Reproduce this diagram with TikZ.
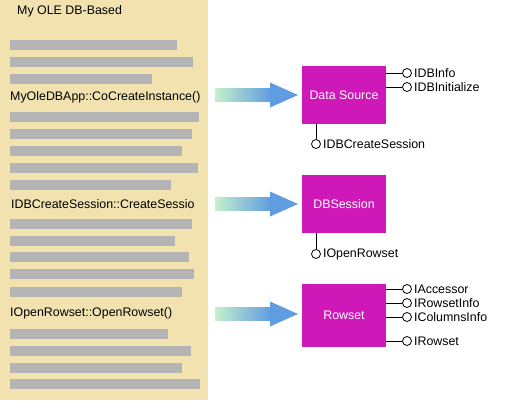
\documentclass[tikz,border=0pt]{standalone}
\usepackage{fontspec}
\setmainfont{Liberation Sans}
\usetikzlibrary{positioning,calc}
\definecolor{panelbeige}{RGB}{242,226,176}
\definecolor{bargray}{RGB}{180,180,180}
\definecolor{objmagenta}{RGB}{206,24,184}
\definecolor{arrowblue}{RGB}{96,156,224}
\definecolor{arrowpale}{RGB}{196,240,204}

\begin{document}
\begin{tikzpicture}[
    x=1pt, y=-1pt,
    every node/.style={font=\fontsize{12.4}{14}\selectfont, inner sep=0pt},
    object/.style={rectangle, fill=objmagenta, minimum width=84pt, minimum height=58pt, text=white},
    iface/.style={circle, draw=black, fill=white, minimum size=9pt, line width=0.8pt},
    ifacelabel/.style={anchor=west},
    call/.style={anchor=west},
    link/.style={line width=0.8pt}
]
\useasboundingbox (0,0) rectangle (525,400);

% Client panel
\fill[panelbeige] (0,0) rectangle (208,400);
\node[anchor=west] (title) at (17,11) {My OLE DB-Based};

% Placeholder code lines
\foreach \y/\xend in {40/177, 57/193, 74/152, 112/199, 129/192, 146/182, 163/198, 180/171,
                      219/192, 236/175, 252/189, 269/194, 287/182, 329/168, 346/191, 363/182, 379/200}
    \fill[bargray] (10,\y) rectangle (\xend,\y+10);

% Calls
\node[call] (cocreate) at (10,97) {MyOleDBApp::CoCreateInstance()};
\node[call] (createsession) at (11,204) {IDBCreateSession::CreateSessio};
\node[call] (openrowset) at (10,313) {IOpenRowset::OpenRowset()};

% Objects
\node[object] (source) at (344,95) {Data Source};
\node[object] (session) at (344,204) {DBSession};
\node[object, minimum height=63pt] (rowset) at (344,315.5) {Rowset};

% Fat arrows
\foreach \y in {95,204,314} {
    \shade[left color=arrowpale, right color=arrowblue] (215,\y-6.5) rectangle (271,\y+6.5);
    \fill[arrowblue] (270,\y-12.5) -- (298,\y) -- (270,\y+12.5) -- cycle;
}

% Data source interfaces
\node[iface] (dbinfo) at (407,73) {};
\node[ifacelabel, right=2pt of dbinfo] (dbinfolbl) {IDBInfo};
\node[iface] (dbinit) at (407,87) {};
\node[ifacelabel, right=2pt of dbinit] (dbinitlbl) {IDBInitialize};
\node[iface] (dbcreate) at (316,144) {};
\node[ifacelabel, right=2pt of dbcreate] (dbcreatelbl) {IDBCreateSession};
\draw[link] (source.east |- dbinfo) -- (dbinfo.west);
\draw[link] (source.east |- dbinit) -- (dbinit.west);
\draw[link] (source.south -| dbcreate) -- (dbcreate.north);

% Session interfaces
\node[iface] (openrs) at (316,254) {};
\node[ifacelabel, right=2pt of openrs] (openrslbl) {IOpenRowset};
\draw[link] (session.south -| openrs) -- (openrs.north);

% Rowset interfaces
\node[iface] (accessor) at (407,289) {};
\node[ifacelabel, right=2pt of accessor] (accessorlbl) {IAccessor};
\node[iface] (rsinfo) at (407,303) {};
\node[ifacelabel, right=2pt of rsinfo] (rsinfolbl) {IRowsetInfo};
\node[iface] (colinfo) at (407,317) {};
\node[ifacelabel, right=2pt of colinfo] (colinfolbl) {IColumnsInfo};
\node[iface] (irowset) at (407,341) {};
\node[ifacelabel, right=2pt of irowset] (irowsetlbl) {IRowset};
\foreach \i in {accessor, rsinfo, colinfo, irowset}
    \draw[link] (rowset.east |- \i) -- (\i.west);

\end{tikzpicture}
\end{document}
